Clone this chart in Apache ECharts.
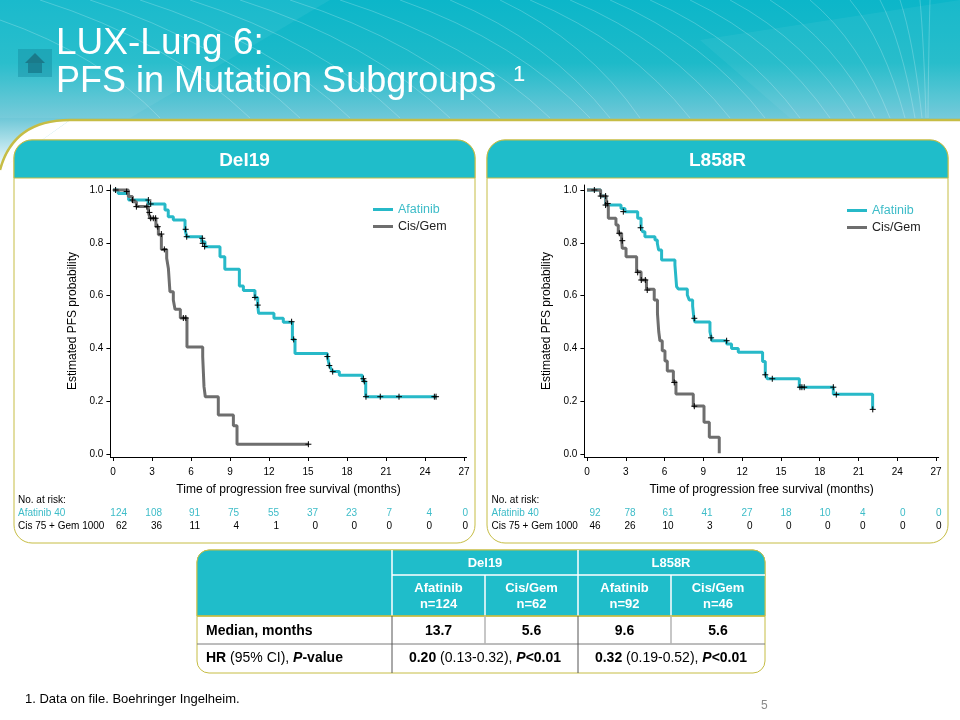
<!DOCTYPE html>
<html><head><meta charset="utf-8">
<style>html,body{margin:0;padding:0;background:#fff}#c{width:960px;height:720px}</style>
<script src="https://cdn.jsdelivr.net/npm/echarts@6/dist/echarts.min.js"></script></head>
<body><div id="c"></div>
<script>
// ---------- data: [months, survival probability] ----------
const xTicks=[0,3,6,9,12,15,18,21,24,27];
const yTicks=[0,0.2,0.4,0.6,0.8,1.0];
const del19Afatinib=[[0,1],[0.4,0.987],[1.2,0.962],[2.7,0.947],[4.0,0.924],[4.25,0.899],[4.64,0.886],[5.54,0.851],[5.67,0.823],[6.82,0.804],[7.08,0.785],[8.23,0.747],[8.6,0.70],[9.72,0.636],[10.03,0.619],[10.92,0.593],[11.13,0.564],[11.2,0.533],[12.38,0.514],[13.1,0.499],[13.8,0.434],[14.0,0.381],[16.49,0.369],[16.64,0.335],[16.75,0.325],[16.9,0.312],[17.41,0.298],[19.18,0.285],[19.27,0.275],[19.44,0.217],[24.85,0.217]];
const del19CisGem=[[0,1],[1.18,0.975],[1.5,0.955],[1.8,0.937],[2.72,0.915],[2.85,0.893],[3.3,0.861],[3.49,0.83],[3.72,0.775],[4.13,0.741],[4.26,0.703],[4.38,0.615],[4.64,0.583],[4.77,0.548],[5.18,0.515],[5.69,0.405],[6.9,0.369],[7.0,0.255],[7.1,0.217],[8.1,0.148],[9.26,0.107],[9.54,0.037],[15.03,0.037]];
const del19AfatinibCens=[[2.72,0.962],[2.9,0.947],[5.59,0.851],[5.67,0.823],[6.87,0.817],[6.9,0.798],[7.05,0.786],[10.92,0.593],[11.13,0.564],[13.74,0.501],[13.9,0.434],[16.49,0.369],[16.64,0.335],[16.9,0.312],[19.26,0.285],[19.33,0.275],[19.46,0.217],[20.56,0.217],[22.0,0.217],[24.72,0.217],[24.85,0.217]];
const del19CisGemCens=[[0.2,1],[1.05,0.994],[1.5,0.962],[1.8,0.937],[2.6,0.937],[2.8,0.915],[2.9,0.893],[3.1,0.893],[3.28,0.893],[3.44,0.861],[3.72,0.833],[3.95,0.775],[5.41,0.515],[5.6,0.515],[15.03,0.037]];
const l858rAfatinib=[[0,1],[1.05,0.977],[1.45,0.943],[2.63,0.93],[2.94,0.918],[3.92,0.893],[4.18,0.857],[4.3,0.842],[4.48,0.823],[5.26,0.811],[5.44,0.798],[5.54,0.773],[5.77,0.735],[6.8,0.716],[6.93,0.634],[7.06,0.625],[7.76,0.602],[7.91,0.583],[8.17,0.56],[8.27,0.514],[8.35,0.50],[9.51,0.463],[9.66,0.429],[10.8,0.417],[11.18,0.40],[11.7,0.385],[13.58,0.35],[13.79,0.303],[13.94,0.285],[16.42,0.253],[19.05,0.226],[22.09,0.17]];
const l858rCisGem=[[0,1],[1.05,0.977],[1.47,0.943],[1.65,0.893],[2.24,0.867],[2.42,0.836],[2.68,0.811],[2.73,0.779],[3.02,0.747],[3.84,0.69],[4.18,0.659],[4.6,0.624],[5.2,0.583],[5.45,0.533],[5.55,0.463],[5.64,0.429],[5.82,0.391],[6.03,0.352],[6.21,0.314],[6.68,0.274],[6.88,0.227],[8.22,0.182],[9.05,0.12],[9.46,0.063],[10.23,0.003]];
const l858rAfatinibCens=[[0.57,1],[1.44,0.977],[1.6,0.949],[2.81,0.918],[4.15,0.857],[8.3,0.514],[9.6,0.44],[10.8,0.429],[13.79,0.30],[14.33,0.285],[16.47,0.253],[16.62,0.253],[16.8,0.253],[19.05,0.253],[19.28,0.225],[22.1,0.169]];
const l858rCisGemCens=[[1.06,0.977],[1.44,0.943],[2.5,0.836],[2.73,0.808],[3.92,0.688],[4.2,0.659],[4.51,0.659],[4.66,0.621],[6.75,0.271],[8.3,0.181]];
const del19RiskAfatinib=['124','108','91','75','55','37','23','7','4','0'];
const del19RiskCisGem=['62','36','11','4','1','0','0','0','0','0'];
const l858rRiskAfatinib=['92','78','61','41','27','18','10','4','0','0'];
const l858rRiskCisGem=['46','26','10','3','0','0','0','0','0','0'];
const tableSub=[['Afatinib','n=124'],['Cis/Gem','n=62'],['Afatinib','n=92'],['Cis/Gem','n=46']];
const tableMedian=['13.7','5.6','9.6','5.6'];

// ---------- styling / layout ----------
const TEAL='#27b9c8',HEAD='#1fbdca',GRAY='#6e6e6e',GOLD='#c6bd45',FONT='"Liberation Sans",Arial,sans-serif';
const riskEdge=[127,162,200,239,279,318,357,392,432,468];
const g=[];
const rect=(x,y,w,h,style,r)=>g.push({type:'rect',z:-1,shape:{x,y,width:w,height:h,r:r||0},style});
const txt=(x,y,text,o={})=>g.push({type:'text',z:5,x,y,style:Object.assign({text,fill:'#000',font:(o.w||'normal')+' '+(o.s||10)+'px '+FONT,align:o.a||'left',verticalAlign:'middle'},o.st||{})});
const ln=(x1,y1,x2,y2,c,w)=>g.push({type:'line',z:-1,shape:{x1,y1,x2,y2},style:{stroke:c,lineWidth:w||1}});

// header background
rect(0,0,960,180,{fill:{type:'linear',x:0,y:0,x2:0,y2:1,colorStops:[{offset:0,color:'#0cb6c9'},{offset:0.35,color:'#1dbac9'},{offset:0.66,color:'#70c8d8'},{offset:0.95,color:'#ffffff'}]}});
g.push({type:'polygon',z:-1,shape:{points:[[700,40],[960,0],[960,118],[790,118]]},style:{fill:'rgba(255,255,255,0.05)'}});
g.push({type:'polygon',z:-1,shape:{points:[[0,0],[330,0],[130,118],[0,118]]},style:{fill:'rgba(255,255,255,0.06)'}});
// fan of thin arcs converging towards the top right of the header
[[500,0,640,118],[530,0,690,118],[570,0,730,118],[610,0,765,118],[650,0,800,118],[690,0,830,118],[730,0,855,118],[770,0,875,118],[810,0,890,118],[850,0,905,118],[880,0,915,118],[900,0,922,118],[920,0,926,118],[930,0,928,118],
 [0,20,160,118],[40,0,250,118],[90,0,300,118],[140,0,350,118],[190,0,400,118],[240,0,450,118],[290,0,500,118],[340,0,550,118],[400,0,590,118],[450,0,610,118]]
 .forEach(a=>g.push({type:'bezierCurve',z:-1,shape:{x1:a[0],y1:a[1],x2:a[2],y2:a[3],cpx1:a[0]+(a[2]-a[0])*0.62,cpy1:a[1]+(a[3]-a[1])*0.35},style:{stroke:'rgba(255,255,255,0.22)',fill:null,lineWidth:1}}));
// white body with curved shoulder
g.push({type:'polygon',z:-1,shape:{points:[[0,170],[70,120],[960,120],[960,720],[0,720]]},style:{fill:'#fff'}});
g.push({type:'bezierCurve',z:-1,shape:{x1:0,y1:170,x2:70,y2:120,cpx1:8,cpy1:140,cpx2:28,cpy2:120},style:{fill:'#fff',stroke:GOLD,lineWidth:2.5}});
ln(70,120,960,120,GOLD,2.5);
// home icon
rect(18,49,34,28,{fill:'rgba(20,140,160,0.45)'});
g.push({type:'polygon',z:-1,shape:{points:[[25,63],[35,53],[45,63]]},style:{fill:'#1a7a8a'}});
rect(28,63,14,10,{fill:'#1a8496'});
// title
txt(56,44,'LUX-Lung 6:',{s:37,st:{fill:'#fff'}});
txt(56,82,'PFS in Mutation Subgroups',{s:36,st:{fill:'#fff'}});
txt(513,75,'1',{s:22,st:{fill:'#fff'}});

// panels
[[14,'Del19',0],[487,'L858R',473]].forEach(p=>{
  rect(p[0],140,461,403,{fill:'#fff',stroke:GOLD,lineWidth:1},18);
  g.push({type:'rect',z:-1,shape:{x:p[0],y:140,width:461,height:38,r:[18,18,0,0]},style:{fill:HEAD,stroke:GOLD,lineWidth:1}});
  txt(p[0]+230.5,161,p[1],{s:19,w:'bold',a:'center',st:{fill:'#fff'}});
});
// number-at-risk tables
[[0,del19RiskAfatinib,del19RiskCisGem],[473.5,l858rRiskAfatinib,l858rRiskCisGem]].forEach(r=>{
  const dx=r[0];
  txt(18+dx,500,'No. at risk:',{s:10});
  txt(18+dx,513,'Afatinib 40',{s:10,st:{fill:'#3dbcc8'}});
  txt(18+dx,526,'Cis 75 + Gem 1000',{s:10});
  riskEdge.forEach((e,i)=>{
    txt(e+dx,513,r[1][i],{s:10,a:'right',st:{fill:'#3dbcc8'}});
    txt(e+dx,526,r[2][i],{s:10,a:'right'});
  });
});

// summary table
const T={x:197,y:550,w:568,cols:[392,485,578,671],rows:[575,616,644],b:673};
g.push({type:'rect',z:-1,shape:{x:T.x,y:T.y,width:T.w,height:T.b-T.y,r:12},style:{fill:'#fff',stroke:GOLD,lineWidth:1}});
g.push({type:'rect',z:-1,shape:{x:T.x,y:T.y,width:T.w,height:T.rows[1]-T.y,r:[12,12,0,0]},style:{fill:HEAD,stroke:GOLD,lineWidth:1}});
ln(392,T.y,392,T.rows[1],'#fff',1.5);ln(578,T.y,578,T.rows[1],'#fff',1.5);
ln(485,575,485,T.rows[1],'#fff',1.5);ln(671,575,671,T.rows[1],'#fff',1.5);
ln(392,575,T.x+T.w,575,'#fff',1.5);
ln(T.x,616,T.x+T.w,616,GOLD,1.5);
ln(T.x,644,T.x+T.w,644,'#7a7a7a',1);
ln(392,616,392,T.b,'#555',1);ln(578,616,578,T.b,'#555',1);
ln(485,616,485,644,'#b5b5b5',1.5);ln(671,616,671,644,'#b5b5b5',1.5);
txt(485,563,'Del19',{s:13,w:'bold',a:'center',st:{fill:'#fff'}});
txt(671,563,'L858R',{s:13,w:'bold',a:'center',st:{fill:'#fff'}});
[438.5,531.5,624.5,718].forEach((x,i)=>{
  txt(x,588,tableSub[i][0],{s:13,w:'bold',a:'center',st:{fill:'#fff'}});
  txt(x,604,tableSub[i][1],{s:13,w:'bold',a:'center',st:{fill:'#fff'}});
  txt(x,631,tableMedian[i],{s:14,w:'bold',a:'center'});
});
txt(206,631,'Median, months',{s:14,w:'bold'});
const rich={b:{fontWeight:'bold',fontSize:14,fontFamily:FONT,fill:'#000'},bi:{fontWeight:'bold',fontStyle:'italic',fontSize:14,fontFamily:FONT,fill:'#000'},n:{fontSize:14,fontFamily:FONT,fill:'#000'}};
const rt=(x,y,text,a)=>g.push({type:'text',z:5,x,y,style:{text,rich,align:a,verticalAlign:'middle',font:'14px '+FONT}});
rt(206,658,'{b|HR}{n| (95% CI), }{bi|P}{b|-value}','left');
rt(485,658,'{b|0.20}{n| (0.13-0.32), }{bi|P}{b|<0.01}','center');
rt(671,658,'{b|0.32}{n| (0.19-0.52), }{bi|P}{b|<0.01}','center');
txt(25,699,'1. Data on file. Boehringer Ingelheim.',{s:13});
txt(761,706,'5',{s:12,st:{fill:'#8a8a8a'}});

// ---------- chart ----------
const xAxis=i=>({gridIndex:i,type:'value',min:-0.2,max:27.2,name:'Time of progression free survival (months)',nameLocation:'middle',nameGap:27,
  nameTextStyle:{fontFamily:FONT,fontSize:12,color:'#000'},splitLine:{show:false},
  axisLine:{onZero:false,lineStyle:{color:'#000',width:1}},axisTick:{customValues:xTicks,length:4,lineStyle:{color:'#000'}},
  axisLabel:{customValues:xTicks,margin:10,fontFamily:FONT,fontSize:10,color:'#000'}});
const yAxis=i=>({gridIndex:i,type:'value',min:-0.0114,max:1.0189,name:'Estimated PFS probability',nameLocation:'middle',nameGap:32,
  nameTextStyle:{fontFamily:FONT,fontSize:12,color:'#000'},splitLine:{show:false},
  axisLine:{onZero:false,lineStyle:{color:'#000',width:1}},axisTick:{customValues:yTicks,length:4,lineStyle:{color:'#000'}},
  axisLabel:{customValues:yTicks,margin:7,fontFamily:FONT,fontSize:10,color:'#000',formatter:v=>v.toFixed(1)}});
const km=(name,data,c,i)=>({name,type:'line',step:'end',xAxisIndex:i,yAxisIndex:i,data,symbol:'none',z:3,lineStyle:{color:c,width:3},itemStyle:{color:c},emphasis:{disabled:true}});
const cens=(data,i)=>({name:'Censored',type:'scatter',xAxisIndex:i,yAxisIndex:i,data,z:6,symbol:'path://M0 4H8M4 0V8',symbolSize:6,itemStyle:{color:'transparent',borderColor:'#000',borderWidth:1,opacity:1},emphasis:{disabled:true}});
const legend=(left,top)=>({left,top,orient:'vertical',selectedMode:false,itemWidth:20,itemHeight:3,itemGap:4,padding:0,
  textStyle:{fontFamily:FONT,fontSize:12.5},
  data:[{name:'Afatinib',icon:'rect',textStyle:{color:'#3dbcc8'}},{name:'Cis/Gem',icon:'rect',textStyle:{color:'#222'}}]});
const chart=echarts.init(document.getElementById('c'),null,{renderer:'canvas'});
chart.setOption({animation:false,backgroundColor:'#fff',
  grid:[{left:110.4,top:185,width:356.2,height:272},{left:584.4,top:185,width:354.3,height:272}],
  xAxis:[xAxis(0),xAxis(1)],yAxis:[yAxis(0),yAxis(1)],
  legend:[legend(373,203),legend(847,204)],
  series:[km('Afatinib',del19Afatinib,TEAL,0),km('Cis/Gem',del19CisGem,GRAY,0),cens(del19AfatinibCens,0),cens(del19CisGemCens,0),
          km('Afatinib',l858rAfatinib,TEAL,1),km('Cis/Gem',l858rCisGem,GRAY,1),cens(l858rAfatinibCens,1),cens(l858rCisGemCens,1)],
  graphic:{elements:g}});
</script></body></html>
